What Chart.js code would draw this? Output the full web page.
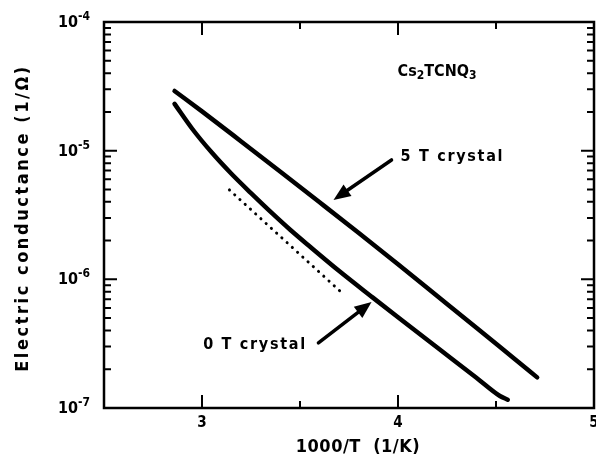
<!DOCTYPE html>
<html>
<head>
<meta charset="utf-8">
<script src="https://cdn.jsdelivr.net/npm/chart.js@4.4.0/dist/chart.umd.min.js"></script>
<style>
  html, body { margin: 0; padding: 0; background: #fff; }
  canvas { display: block; }
</style>
</head>
<body>
<canvas id="chart" width="596" height="459"></canvas>
<script>
// axis ranges
const xMin = 2.5, xMax = 5;
const yMin = 1e-7, yMax = 1e-4;
const xTickLabels = [3, 4, 5];
const yDecades = [1e-7, 1e-6, 1e-5, 1e-4];

// 5 T crystal
const invT5T = [2.86, 3.0, 3.2, 3.4, 3.6, 3.8, 4.0, 4.2, 4.4, 4.6, 4.71];
const cond5T = [2.91e-5, 2.02e-5, 1.18e-5, 6.86e-6, 3.97e-6, 2.29e-6, 1.31e-6, 7.43e-7, 4.21e-7, 2.37e-7, 1.73e-7];

// 0 T crystal
const invT0T = [2.86, 2.95, 3.05, 3.15, 3.25, 3.36, 3.45, 3.55, 3.7, 3.87, 4.0, 4.2, 4.4, 4.52, 4.56];
const cond0T = [2.31e-5, 1.48e-5, 9.66e-6, 6.61e-6, 4.68e-6, 3.24e-6, 2.43e-6, 1.80e-6, 1.16e-6, 7.24e-7, 5.07e-7, 2.95e-7, 1.72e-7, 1.24e-7, 1.16e-7];

// dotted guide line
const invTDot = [3.14, 3.72];
const condDot = [4.95e-6, 7.7e-7];

// annotations (data coords)
const arrows = [
  { from: [3.967, 8.47e-6], to: [3.671, 4.14e-6] },
  { from: [3.594, 3.21e-7], to: [3.865, 6.67e-7] }
];
const labels = [
  { text: '5 T crystal', x: 4.013, y: 8.93e-6 },
  { text: '0 T crystal', x: 3.006, y: 3.09e-7 }
];
const compound = { parts: [['Cs', 0], ['2', 1], ['TCNQ', 0], ['3', 1]], x: 3.998, y: 4.08e-5 };

const FONT = '"DejaVu Sans Condensed", "DejaVu Sans", sans-serif';

const toXY = (xs, ys) => xs.map((x, i) => ({ x: x, y: ys[i] }));

const decor = {
  id: 'decor',
  afterDraw(chart) {
    const ctx = chart.ctx;
    const a = chart.chartArea;
    const xs = chart.scales.x, ys = chart.scales.y;
    ctx.save();
    ctx.strokeStyle = '#000';
    ctx.fillStyle = '#000';

    // frame
    ctx.lineWidth = 2.5;
    ctx.strokeRect(a.left, a.top, a.right - a.left, a.bottom - a.top);

    // y ticks, inside on both sides
    ctx.lineWidth = 2;
    for (let e = -7; e < -4; e++) {
      for (let m = 1; m < 10; m++) {
        const py = ys.getPixelForValue(m * Math.pow(10, e));
        const len = m === 1 ? 13 : 7;
        ctx.beginPath();
        ctx.moveTo(a.left, py); ctx.lineTo(a.left + len, py);
        ctx.moveTo(a.right, py); ctx.lineTo(a.right - len, py);
        ctx.stroke();
      }
    }
    // x ticks, inside on top and bottom
    for (let v = 3; v < xMax; v += 0.5) {
      const px = xs.getPixelForValue(v);
      const len = Number.isInteger(v) ? 13 : 7;
      ctx.beginPath();
      ctx.moveTo(px, a.bottom); ctx.lineTo(px, a.bottom - len);
      ctx.moveTo(px, a.top); ctx.lineTo(px, a.top + len);
      ctx.stroke();
    }

    // x tick labels
    ctx.font = 'bold 15px ' + FONT;
    ctx.textAlign = 'center';
    ctx.textBaseline = 'middle';
    xTickLabels.forEach(v => ctx.fillText(String(v), xs.getPixelForValue(v), 423));

    // y tick labels 10^-n
    yDecades.forEach(v => {
      const py = ys.getPixelForValue(v);
      const exp = '-' + Math.round(-Math.log10(v));
      ctx.textAlign = 'left';
      ctx.textBaseline = 'middle';
      ctx.font = 'bold 16px ' + FONT;
      const w1 = ctx.measureText('10').width;
      ctx.font = 'bold 12px ' + FONT;
      const w2 = ctx.measureText(exp).width;
      const x0 = 90 - w1 - w2;
      ctx.font = 'bold 16px ' + FONT;
      ctx.fillText('10', x0, py + 1);
      ctx.font = 'bold 12px ' + FONT;
      ctx.fillText(exp, x0 + w1, py - 5);
    });

    // axis titles
    ctx.font = 'bold 18px ' + FONT;
    ctx.textAlign = 'center';
    ctx.textBaseline = 'middle';
    ctx.letterSpacing = '0.5px';
    ctx.fillText('1000/T  (1/K)', 358, 447);

    ctx.save();
    ctx.translate(23, 218);
    ctx.rotate(-Math.PI / 2);
    ctx.font = 'bold 18px ' + FONT;
    ctx.letterSpacing = '0px';
    const title = 'Electric conductance (1/\u03A9)';
    const tw = ctx.measureText(title).width;
    ctx.letterSpacing = ((305 - tw) / (title.length - 1)).toFixed(2) + 'px';
    ctx.fillText(title, 0, 0);
    ctx.restore();

    // arrows
    arrows.forEach(ar => {
      const x1 = xs.getPixelForValue(ar.from[0]), y1 = ys.getPixelForValue(ar.from[1]);
      const x2 = xs.getPixelForValue(ar.to[0]), y2 = ys.getPixelForValue(ar.to[1]);
      const ang = Math.atan2(y2 - y1, x2 - x1);
      const hl = 17, hw = 7;
      const bx = x2 - hl * Math.cos(ang), by = y2 - hl * Math.sin(ang);
      ctx.lineWidth = 3.5;
      ctx.lineCap = 'round';
      ctx.beginPath();
      ctx.moveTo(x1, y1); ctx.lineTo(bx, by);
      ctx.stroke();
      ctx.beginPath();
      ctx.moveTo(x2, y2);
      ctx.lineTo(bx + hw * Math.sin(ang), by - hw * Math.cos(ang));
      ctx.lineTo(bx - hw * Math.sin(ang), by + hw * Math.cos(ang));
      ctx.closePath();
      ctx.fill();
    });

    // curve labels
    ctx.font = 'bold 16px ' + FONT;
    ctx.textAlign = 'left';
    ctx.textBaseline = 'middle';
    labels.forEach(l => {
      ctx.letterSpacing = '0px';
      const w = ctx.measureText(l.text).width;
      ctx.letterSpacing = ((102 - w) / (l.text.length - 1)).toFixed(2) + 'px';
      ctx.fillText(l.text, xs.getPixelForValue(l.x), ys.getPixelForValue(l.y));
    });

    // compound name with subscripts
    ctx.letterSpacing = '0px';
    let cx = xs.getPixelForValue(compound.x);
    const cy = ys.getPixelForValue(compound.y);
    compound.parts.forEach(([t, sub]) => {
      ctx.font = (sub ? 'bold 12px ' : 'bold 16px ') + FONT;
      ctx.fillText(t, cx, sub ? cy + 4 : cy);
      cx += ctx.measureText(t).width;
    });

    ctx.restore();
  }
};

const curveStyle = {
  showLine: true,
  borderColor: '#000',
  borderWidth: 4.5,
  pointRadius: 0,
  cubicInterpolationMode: 'monotone',
  borderCapStyle: 'round',
  borderJoinStyle: 'round'
};

new Chart(document.getElementById('chart'), {
  type: 'scatter',
  data: {
    datasets: [
      Object.assign({ label: '5 T crystal', data: toXY(invT5T, cond5T) }, curveStyle),
      Object.assign({ label: '0 T crystal', data: toXY(invT0T, cond0T) }, curveStyle),
      {
        label: 'guide',
        data: toXY(invTDot, condDot),
        showLine: true,
        borderColor: '#000',
        borderWidth: 3,
        borderDash: [0.1, 7],
        borderCapStyle: 'round',
        pointRadius: 0
      }
    ]
  },
  options: {
    responsive: false,
    animation: false,
    devicePixelRatio: 1,
    layout: { padding: { top: 22, right: 2, left: 0, bottom: 0 } },
    plugins: {
      legend: { display: false },
      tooltip: { enabled: false }
    },
    scales: {
      x: {
        type: 'linear',
        min: xMin,
        max: xMax,
        grid: { display: false },
        border: { display: false },
        ticks: { display: false },
        afterFit(scale) { scale.height = 51; }
      },
      y: {
        type: 'logarithmic',
        min: yMin,
        max: yMax,
        grid: { display: false },
        border: { display: false },
        ticks: { display: false },
        afterFit(scale) { scale.width = 104; }
      }
    }
  },
  plugins: [decor]
});
</script>
</body>
</html>
